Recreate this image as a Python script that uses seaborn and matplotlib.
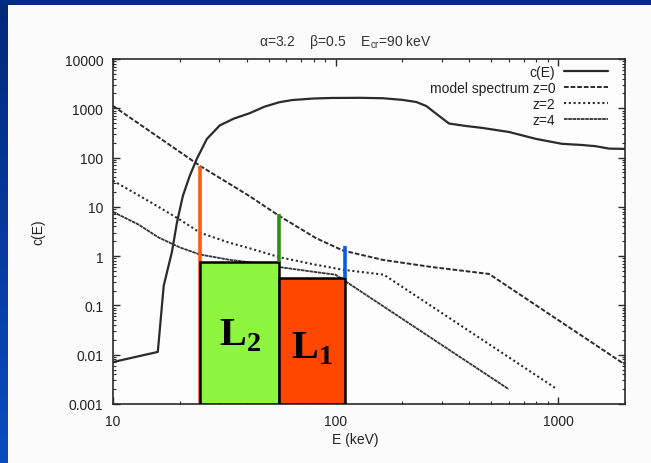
import numpy as np
import pandas as pd
import matplotlib
matplotlib.use("Agg")
import matplotlib.pyplot as plt
from matplotlib.ticker import FixedLocator, FixedFormatter, LogLocator, NullFormatter
from matplotlib.patches import Rectangle
from matplotlib.colors import LinearSegmentedColormap
import seaborn as sns

# ---------------- data ----------------
cE_energy = [10, 15.9, 16.9, 18.4, 19.4, 20.6, 22.1, 23.8, 26.4, 30.2, 35, 41, 48, 56, 64,
             80, 97, 130, 163, 200, 231, 256, 284, 324, 386, 456, 603, 794, 1042, 1282,
             1479, 1694, 2000]
cE_value = [0.0071, 0.0114, 0.25, 1.22, 4.9, 16.6, 42, 94, 238, 450, 620, 790, 1080, 1330,
            1470, 1580, 1620, 1630, 1600, 1480, 1340, 1110, 770, 490, 437, 400, 330, 240,
            190, 180, 170, 152, 150]

z0_energy = [10, 24.6, 41, 56, 82, 108, 163, 272, 490, 2000]
z0_value = [1120, 68, 16.6, 6.5, 2.3, 1.3, 0.84, 0.6, 0.435, 0.0063]

z2_energy = [10, 15, 20, 24.6, 33, 41, 56, 80, 108, 165, 990]
z2_value = [34, 11.9, 5.5, 3.0, 1.9, 1.45, 0.95, 0.68, 0.53, 0.42, 0.002]

z4_energy = [10, 13, 16, 20, 24.6, 33, 41, 56, 80, 100, 600]
z4_value = [7.9, 4.4, 2.4, 1.5, 1.08, 0.85, 0.75, 0.6, 0.48, 0.42, 0.002]

band_edges = [24.6, 56, 110]          # keV: L2 band = [24.6, 56], L1 band = [56, 110]
band_tops = [0.76, 0.36]              # L2, L1
band_names = ["2", "1"]
marker_tops = [68, 7.2, 1.6]          # vertical marker lines at each band edge

series_labels = ["c(E)", "model spectrum z=0", "z=2", "z=4"]
xtick_values = [10, 100, 1000]
xtick_labels = ["10", "100", "1000"]
ytick_values = [0.001, 0.01, 0.1, 1, 10, 100, 1000, 10000]
ytick_labels = ["0.001", "0.01", "0.1", "1", "10", "100", "1000", "10000"]

title_text = r"α=3.2    β=0.5    E$_{\mathrm{cr}}$=90 keV"
# --------------------------------------

sns.set_theme(style="ticks")
plt.rcParams["font.family"] = ["Liberation Sans", "DejaVu Sans"]
plt.rcParams["mathtext.fontset"] = "custom"
plt.rcParams["mathtext.rm"] = "Liberation Sans"
plt.rcParams["mathtext.bf"] = "Liberation Serif:bold"
plt.rcParams["mathtext.it"] = "Liberation Sans:italic"

W, H = 651, 464
fig = plt.figure(figsize=(W / 100, H / 100), dpi=100, facecolor="#fbfbfb")

# background frame (blue band on top and left)
bg = fig.add_axes([0, 0, 1, 1], zorder=-10)
bg.set_xlim(0, W)
bg.set_ylim(H, 0)
bg.axis("off")
grad = np.linspace(0, 1, 200).reshape(-1, 1)
cmap = LinearSegmentedColormap.from_list("frame", ["#00287c", "#0a4cc0"])
bg.imshow(grad, extent=[0, 7.5, H, 0], cmap=cmap, aspect="auto", origin="upper")
bg.add_patch(Rectangle((0, 0), W, 6, color="#012c84", lw=0))

ax_left, ax_right = 113 / W, 625 / W
ax_top, ax_bottom = 1 - 60 / H, 1 - 405 / H
ax = fig.add_axes([ax_left, ax_bottom, ax_right - ax_left, ax_top - ax_bottom])
ax.set_facecolor("#fdfdfd")

ink = "#2b2b2b"
sns.lineplot(x=cE_energy, y=cE_value, ax=ax, color=ink, lw=1.6, label=series_labels[0], zorder=2)
sns.lineplot(x=z0_energy, y=z0_value, ax=ax, color=ink, lw=1.4, linestyle=(0, (2.4, 1.0)),
             label=series_labels[1], zorder=2)
sns.lineplot(x=z2_energy, y=z2_value, ax=ax, color=ink, lw=1.5, linestyle=(0, (1, 1.3)),
             label=series_labels[2], zorder=2)
sns.lineplot(x=z4_energy, y=z4_value, ax=ax, color="#333333", lw=1.3, linestyle=(0, (2.0, 0.35)),
             label=series_labels[3], zorder=2)

ax.set_xscale("log")
ax.set_yscale("log")
ax.set_xlim(10, 2000)
ax.set_ylim(0.001, 10000)

# bands
ymin = ax.get_ylim()[0]
lefts = np.array(band_edges[:-1])
rights = np.array(band_edges[1:])
heights = np.array(band_tops) - ymin
ax.bar(lefts, heights, width=rights - lefts, bottom=ymin, align="edge",
       color=["#8df53e", "#ff4700"], edgecolor="black", linewidth=1.8, zorder=3)

# vertical marker lines
ax.vlines(band_edges[0], ymin, marker_tops[0], color="#ff5a10", lw=2.6, zorder=2.5)
ax.vlines(band_edges[1], band_tops[0], marker_tops[1], color="#2e9010", lw=2.6, zorder=4)
ax.vlines(band_edges[2], band_tops[1], marker_tops[2], color="#0a5ae6", lw=2.6, zorder=4)

# band labels
trans = matplotlib.transforms.blended_transform_factory(ax.transData, ax.transAxes)
for lo, hi, name, yfrac in zip(lefts, rights, band_names, [0.174, 0.136]):
    ax.text(np.sqrt(lo * hi), yfrac, r"$\mathbf{L}_{\mathbf{%s}}$" % name, transform=trans,
            ha="center", va="baseline", fontsize=29, color="black", zorder=5)

# ticks
ax.xaxis.set_major_locator(FixedLocator(xtick_values))
ax.xaxis.set_major_formatter(FixedFormatter(xtick_labels))
ax.yaxis.set_major_locator(FixedLocator(ytick_values))
ax.yaxis.set_major_formatter(FixedFormatter(ytick_labels))
ax.xaxis.set_minor_locator(LogLocator(base=10, subs=np.arange(2, 10)))
ax.yaxis.set_minor_locator(LogLocator(base=10, subs=np.arange(2, 10)))
ax.xaxis.set_minor_formatter(NullFormatter())
ax.yaxis.set_minor_formatter(NullFormatter())
ax.tick_params(which="both", direction="in", top=True, right=True, color=ink)
ax.tick_params(which="major", length=5, width=1.0, labelsize=10, labelcolor="#222222", pad=7)
ax.tick_params(which="minor", length=2.5, width=0.8)
for s in ax.spines.values():
    s.set_color(ink)
    s.set_linewidth(1.2)

ax.set_xlabel("E (keV)", fontsize=10, color="#222222")
ax.set_ylabel("c(E)", fontsize=10, color="#222222")
ax.xaxis.set_label_coords((355 - 113) / 512, (405 - 433) / 345)
ax.yaxis.set_label_coords((45 - 113) / 512, 0.5)

fig.text(345 / W, 1 - 42 / H, title_text, ha="center", va="center", fontsize=10, color="#333333")

leg = ax.legend(loc="upper right", bbox_to_anchor=(0.967, 0.982), frameon=False,
                markerfirst=False, fontsize=10, handlelength=3.2, handletextpad=0.6,
                labelspacing=0.14, borderpad=0, borderaxespad=0)
for t in leg.get_texts():
    t.set_color("#222222")

fig.savefig("out.png", dpi=100, facecolor=fig.get_facecolor())
